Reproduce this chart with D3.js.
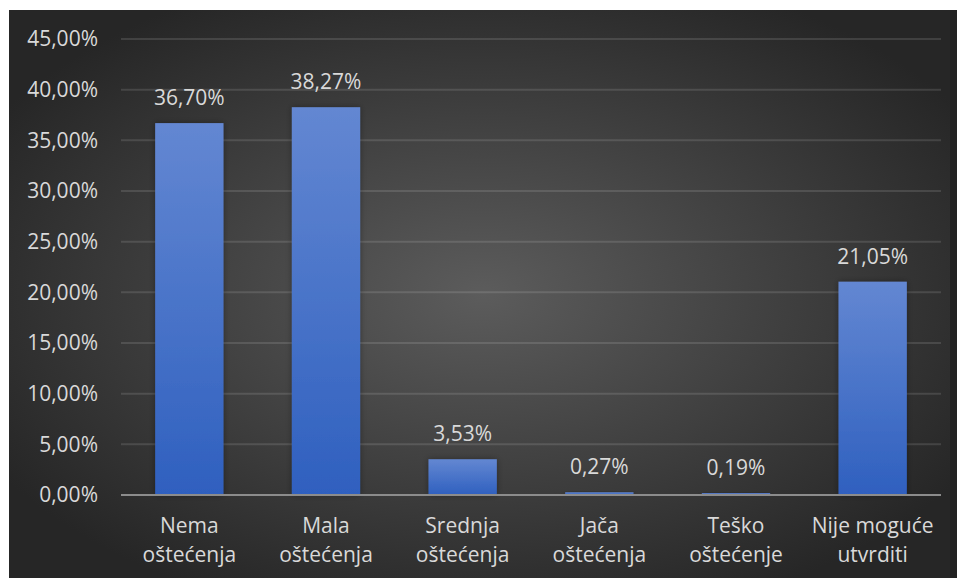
<!DOCTYPE html>
<html>
<head>
<meta charset="utf-8">
<script src="https://d3js.org/d3.v7.min.js"></script>
<style>
  body { margin: 0; background: #fff; }
  text { font-family: "Open Sans", sans-serif; }
</style>
</head>
<body>
<script>
    // chart data
    let categories = [["Nema", "oštećenja"], ["Mala", "oštećenja"], ["Srednja", "oštećenja"],
                      ["Jača", "oštećenja"], ["Teško", "oštećenje"], ["Nije moguće", "utvrditi"]]
    let values = [36.70, 38.27, 3.53, 0.27, 0.19, 21.05]
    let ticks = [0, 5, 10, 15, 20, 25, 30, 35, 40, 45]

    let W = 957, H = 578
    let svg = d3.select("body").append("svg").attr("width", W).attr("height", H)

    let defs = svg.append("defs")
    let bg = defs.append("radialGradient").attr("id", "bg")
        .attr("cx", "50%").attr("cy", "50%").attr("r", "60%")
    bg.append("stop").attr("offset", "0%").attr("stop-color", "#5c5c5c")
    bg.append("stop").attr("offset", "100%").attr("stop-color", "#262626")

    let barGrad = defs.append("linearGradient").attr("id", "bar")
        .attr("x1", 0).attr("y1", 0).attr("x2", 0).attr("y2", 1)
    barGrad.append("stop").attr("offset", "0%").attr("stop-color", "#6387d2")
    barGrad.append("stop").attr("offset", "100%").attr("stop-color", "#2f60bf")

    let shadow = defs.append("filter").attr("id", "sh").attr("x", "-20%").attr("y", "-20%")
        .attr("width", "140%").attr("height", "140%")
    shadow.append("feDropShadow").attr("dx", 0).attr("dy", 0).attr("stdDeviation", 3)
        .attr("flood-color", "#000").attr("flood-opacity", 0.35)

    svg.append("rect").attr("x", 9).attr("y", 10).attr("width", W - 9).attr("height", H - 10)
        .attr("fill", "url(#bg)")
    svg.append("rect").attr("x", 950).attr("y", 10).attr("width", 7).attr("height", H - 10)
        .attr("fill", "#222")

    let plotL = 121, plotR = 941, plotT = 39, plotB = 495

    let x = d3.scaleBand().domain(d3.range(categories.length)).range([plotL, plotR]).paddingInner(0.5).paddingOuter(0.25)
    let y = d3.scaleLinear().domain([0, 45]).range([plotB, plotT])

    // gridlines
    svg.append("g").selectAll("line").data(ticks.slice(1)).join("line")
        .attr("x1", plotL).attr("x2", plotR)
        .attr("y1", d => y(d)).attr("y2", d => y(d))
        .attr("stroke", "#ffffff").attr("stroke-opacity", 0.12).attr("stroke-width", 2)

    // y tick labels
    svg.append("g").selectAll("text").data(ticks).join("text")
        .attr("x", 98).attr("y", d => y(d)).attr("dy", "0.35em")
        .attr("text-anchor", "end").attr("fill", "#d9d9d9").attr("font-size", 21)
        .text(d => d.toFixed(2).replace(".", ",") + "%")

    // bars
    svg.append("g").selectAll("rect").data(values).join("rect")
        .attr("x", (d, i) => x(i)).attr("width", x.bandwidth())
        .attr("y", d => y(d)).attr("height", d => Math.max(2, plotB - y(d)))
        .attr("fill", "url(#bar)").attr("filter", "url(#sh)")

    // axis line
    svg.append("line").attr("x1", plotL).attr("x2", plotR).attr("y1", plotB).attr("y2", plotB)
        .attr("stroke", "#8c8c8c").attr("stroke-width", 2)

    // data labels
    svg.append("g").selectAll("text").data(values).join("text")
        .attr("x", (d, i) => x(i) + x.bandwidth() / 2).attr("y", d => y(d) - 18)
        .attr("text-anchor", "middle").attr("fill", "#d9d9d9").attr("font-size", 21)
        .text(d => d.toFixed(2).replace(".", ",") + "%")

    // category labels
    let cat = svg.append("g").selectAll("text").data(categories).join("text")
        .attr("x", (d, i) => x(i) + x.bandwidth() / 2).attr("y", 533)
        .attr("text-anchor", "middle").attr("fill", "#d9d9d9").attr("font-size", 21)
    cat.selectAll("tspan").data(d => d).join("tspan")
        .attr("x", function () { return d3.select(this.parentNode).attr("x") })
        .attr("dy", (d, i) => i == 0 ? 0 : 29)
        .text(d => d)
</script>
</body>
</html>
